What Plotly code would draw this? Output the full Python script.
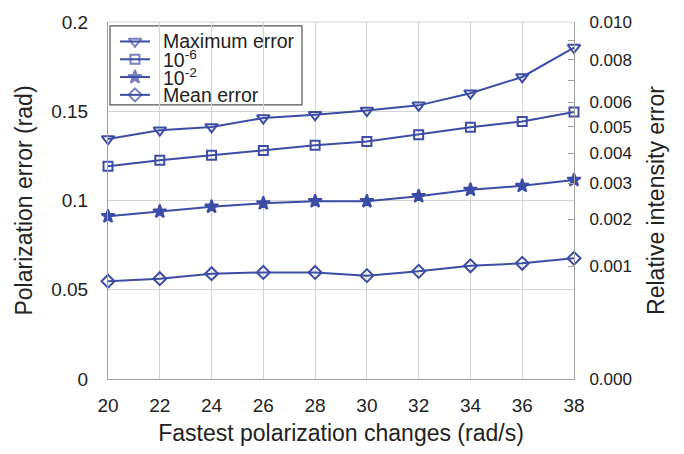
import math
import plotly.graph_objects as go

speeds = [20, 22, 24, 26, 28, 30, 32, 34, 36, 38]
max_error = [0.1345, 0.1394, 0.1412, 0.1462, 0.1480, 0.1504, 0.1533, 0.1601, 0.1692, 0.1857]
err_1e6 = [0.1192, 0.1225, 0.1253, 0.1280, 0.1309, 0.1330, 0.1368, 0.1410, 0.1443, 0.1496]
err_1e2 = [0.0912, 0.0938, 0.0965, 0.0984, 0.0996, 0.0996, 0.1024, 0.1060, 0.1082, 0.1115]
mean_error = [0.0548, 0.0562, 0.0590, 0.0597, 0.0597, 0.0579, 0.0603, 0.0634, 0.0648, 0.0676]

left_ticks = [0, 0.05, 0.1, 0.15, 0.2]
left_labels = ["0", "0.05", "0.1", "0.15", "0.2"]
rel_ticks = [0.000, 0.001, 0.002, 0.003, 0.004, 0.005, 0.006, 0.007, 0.008, 0.009, 0.010]
rel_labels = ["0.000", "0.001", "0.002", "0.003", "0.004", "0.005", "0.006", "", "0.008", "", "0.010"]
rel_max = 0.010

COLOR = "#3D4DA6"
GRID = "#d4d4d4"
AXIS = "#a0a0a0"
FONT = "Liberation Sans, Arial, Helvetica, sans-serif"

series = [
    ("Maximum error", max_error, "triangle-down-open", 11),
    ("10<sup>-6</sup>", err_1e6, "square-open", 9),
    ("10<sup>-2</sup>", err_1e2, "star", 10),
    ("Mean error", mean_error, "diamond-open", 10),
]

fig = go.Figure()
for name, vals, sym, size in series:
    fig.add_trace(go.Scatter(
        x=speeds, y=vals, name=name, mode="lines+markers",
        line=dict(color=COLOR, width=2),
        marker=dict(symbol=sym, size=size, color=COLOR,
                    line=dict(color=COLOR, width=2)),
        showlegend=False, cliponaxis=False,
    ))

# invisible trace to anchor the right (square-root scaled) axis
fig.add_trace(go.Scatter(x=[speeds[0]], y=[0], yaxis="y2", mode="markers",
                         marker=dict(opacity=0), showlegend=False, hoverinfo="skip"))

# ---- manual compact legend (layout in paper fractions) ----
LEG_X0, LEG_X1, LEG_Y0, LEG_Y1 = 0.0043, 0.4163, 0.768, 0.989
ROW_Y = [0.9455, 0.8956, 0.8458, 0.7959]
GLYPH_X0, GLYPH_XM, GLYPH_X1, TEXT_X = 0.0258, 0.0579, 0.0901, 0.1159

shapes = [
    dict(type="rect", xref="paper", yref="paper", x0=LEG_X0, x1=LEG_X1,
         y0=LEG_Y0, y1=LEG_Y1, line=dict(color="#555", width=1.2),
         fillcolor="white", layer="between"),
    # top frame line of the plot area
    dict(type="line", xref="paper", yref="paper", x0=0, x1=1, y0=1, y1=1,
         line=dict(color=GRID, width=1), layer="below"),
]
annotations = []
for (name, vals, sym, size), ry in zip(series, ROW_Y):
    annotations.append(dict(xref="paper", yref="paper", x=TEXT_X, y=ry,
                            xanchor="left", yanchor="middle", showarrow=False,
                            borderpad=0,
                            text=name, font=dict(size=19.5, family=FONT, color="#222")))
    fig.add_trace(go.Scatter(
        x=[GLYPH_X0, GLYPH_XM, GLYPH_X1], y=[ry, ry, ry], xaxis="x2", yaxis="y3",
        mode="lines+markers",
        line=dict(color=COLOR, width=2),
        marker=dict(symbol=sym, size=[0, size, 0], color=COLOR,
                    line=dict(color=COLOR, width=[0, 2, 0])),
        showlegend=False, hoverinfo="skip", cliponaxis=False,
    ))

fig.update_layout(
    width=684, height=454,
    margin=dict(l=108, r=110, t=22, b=65),
    paper_bgcolor="white", plot_bgcolor="white",
    font=dict(family=FONT, color="#222", size=19),
    showlegend=False,
    shapes=shapes,
    annotations=annotations,
    xaxis=dict(range=[20, 38], tickvals=speeds, ticktext=[str(s) for s in speeds],
               showgrid=True, gridcolor=GRID, gridwidth=1,
               showline=True, linecolor=AXIS, linewidth=1,
               ticks="", zeroline=False, ticklabelstandoff=9,
               tickfont=dict(size=19),
               title=dict(text="Fastest polarization changes (rad/s)",
                          font=dict(size=23), standoff=10)),
    yaxis=dict(range=[0, 0.2], tickvals=left_ticks, ticktext=left_labels,
               showgrid=True, gridcolor=GRID, gridwidth=1,
               showline=True, linecolor=AXIS, linewidth=1,
               ticks="", zeroline=False, ticklabelstandoff=15,
               tickfont=dict(size=19),
               title=dict(text="Polarization error (rad)",
                          font=dict(size=23), standoff=12)),
    yaxis2=dict(overlaying="y", side="right", range=[0, 1],
                tickvals=[math.sqrt(v / rel_max) for v in rel_ticks],
                ticktext=rel_labels,
                showgrid=False, zeroline=False,
                showline=True, linecolor=AXIS, linewidth=1,
                ticks="inside", ticklen=6, tickcolor=AXIS,
                ticklabelstandoff=11,
                tickfont=dict(size=17),
                title=dict(text="Relative intensity error",
                           font=dict(size=23), standoff=16)),
    xaxis2=dict(overlaying="x", range=[0, 1], visible=False, fixedrange=True),
    yaxis3=dict(overlaying="y", range=[0, 1], visible=False, fixedrange=True),
)

fig.write_html("out.html")
